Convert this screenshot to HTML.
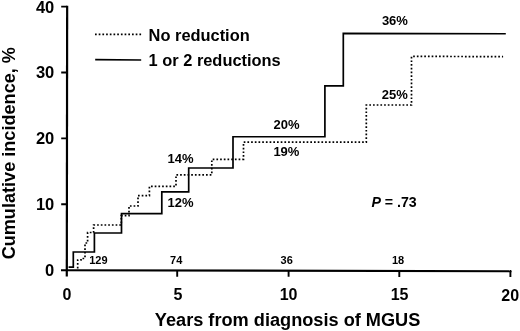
<!DOCTYPE html>
<html><head><meta charset="utf-8">
<style>
html,body{margin:0;padding:0;background:#fff;}
body{width:520px;height:331px;overflow:hidden;position:relative;font-family:"Liberation Sans",sans-serif;}
svg{position:absolute;left:0;top:0;display:block;filter:grayscale(1);}
text{font-family:"Liberation Sans",sans-serif;font-weight:bold;fill:#000;}
</style></head><body>
<svg width="520" height="331" viewBox="0 0 520 331">
<rect width="520" height="331" fill="#fff"/>
<!-- axes -->
<g stroke="#000" fill="none" stroke-linecap="butt">
<path d="M67.15 5.75L66.8 276.4" stroke-width="2.2"/>
<path d="M61 270.2L511.5 271.2" stroke-width="2.1"/>
<path d="M61.2 6.6H67M61.2 72.5H67M61.2 138.4H67M61.2 204.3H67" stroke-width="1.9"/>
<path d="M177.2 270V276.7M288.6 270V276.8M399.3 270V276.9M510.4 270V277" stroke-width="1.9"/>
</g>
<!-- solid curve -->
<path d="M68.6 267.1H73.3V252H94.4V233H121.5V213.6H161.8V191.9H188.7V168H233V136.75H324.9V85.9H343.3V33.4L505.8 33.75" fill="none" stroke="#000" stroke-width="1.7" stroke-linejoin="miter"/>
<!-- dotted curve -->
<path d="M77.7 268.5V260H81V258.5H85V243H87.6V232.5H93.6V225H121.3V215.6H129V206H138V195.6H149.4V186.4H176V174.8H211.8V159.3H243.5V142.2H366.3V105H411.5V56.35L503.1 56.65" fill="none" stroke="#000" stroke-width="1.7" stroke-dasharray="1.7 2"/>
<!-- legend -->
<path d="M95 34.4H141.5" fill="none" stroke="#000" stroke-width="1.7" stroke-dasharray="1.7 2"/>
<path d="M95.2 59.6L141.2 60" fill="none" stroke="#000" stroke-width="1.7"/>
<text x="148.6" y="40.8" font-size="16.4">No reduction</text>
<text x="148.6" y="66" font-size="16.4">1 or 2 reductions</text>
<!-- y tick labels -->
<g font-size="16.5" text-anchor="end">
<text x="54.3" y="12.5">40</text>
<text x="54.3" y="78.3">30</text>
<text x="54.3" y="144.1">20</text>
<text x="54.3" y="210.1">10</text>
<text x="54.1" y="276.1">0</text>
</g>
<!-- x tick labels -->
<g font-size="16" text-anchor="middle">
<text x="67" y="299.9">0</text>
<text x="178" y="300.05">5</text>
<text x="288.6" y="300.2">10</text>
<text x="399.6" y="300.35">15</text>
<text x="510.2" y="300.5">20</text>
</g>
<!-- axis titles -->
<text x="287.6" y="326.1" font-size="18.18" text-anchor="middle">Years from diagnosis of MGUS</text>
<text transform="translate(15 153.2) rotate(-90)" font-size="18.12" text-anchor="middle">Cumulative incidence, %</text>
<!-- annotations -->
<g font-size="13">
<text x="167.5" y="163.3">14%</text>
<text x="167.6" y="207.4">12%</text>
<text x="273.5" y="129.1">20%</text>
<text x="273.4" y="155.9">19%</text>
<text x="381.8" y="98.8">25%</text>
<text x="381.9" y="25.1">36%</text>
</g>
<g font-size="11">
<text x="89.2" y="264">129</text>
<text x="170.1" y="264">74</text>
<text x="280.6" y="264">36</text>
<text x="392" y="264">18</text>
</g>
<text x="371.4" y="206.5" font-size="14.2"><tspan font-style="italic">P</tspan> = .73</text>
</svg>
</body></html>
